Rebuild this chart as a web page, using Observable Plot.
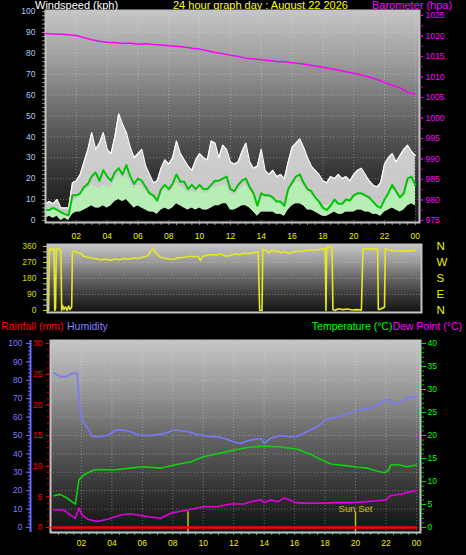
<!DOCTYPE html>
<html><head><meta charset="utf-8">
<script src="https://cdn.jsdelivr.net/npm/d3@7"></script>
<script src="https://cdn.jsdelivr.net/npm/@observablehq/plot@0.6"></script>
<style>
html,body{margin:0;padding:0;background:#000;}
#wrap{position:relative;width:466px;height:555px;background:#000;overflow:hidden;font-family:"Liberation Sans",Arial,sans-serif;}
.t{position:absolute;font-size:11px;line-height:11px;white-space:nowrap;}
</style></head>
<body>
<div id="wrap">
<svg width="0" height="0" style="position:absolute"><defs>
<linearGradient id="bg" x1="0" y1="0" x2="0" y2="1">
<stop offset="0" stop-color="#c6c6c6"/><stop offset="0.25" stop-color="#9a9a9a"/><stop offset="0.5" stop-color="#666"/><stop offset="0.75" stop-color="#383838"/><stop offset="1" stop-color="#121212"/>
</linearGradient></defs></svg>
<div class="t" style="left:35px;top:0px;color:#fff">Windspeed (kph)</div>
<div class="t" style="left:173px;top:0px;color:#ffff00">24 hour graph day : August 22 2026</div>
<div class="t" style="left:372px;top:0px;color:#ff00ff">Barometer (hpa)</div>
<div class="t" style="left:1px;top:321px;color:#ff0000;font-size:10.5px">Rainfall (mm)</div>
<div class="t" style="left:67px;top:321px;color:#8080ff;font-size:10.5px">Humidity</div>
<div class="t" style="right:4px;top:321px;font-size:10.5px"><span style="color:#00ff00">Temperature (°C)</span><span style="color:#ff00ff">Dew Point (°C)</span></div>
</div>
<script>
// ---------- data ----------
const hourTicks = [2,4,6,8,10,12,14,16,18,20,22,24];
const hourLabels = ["02","04","06","08","10","12","14","16","18","20","22","00"];
const windTicks = [0,10,20,30,40,50,60,70,80,90,100];
const baroTicks = [975,980,985,990,995,1000,1005,1010,1015,1020,1025];
const dirTicks = [0,90,180,270,360];
const dirLetters = ["N","E","S","W","N"];
const humTicks = [0,10,20,30,40,50,60,70,80,90,100];
const rainTicks = [0,5,10,15,20,25,30];
const tempTicks = [0,5,10,15,20,25,30,35,40];

// wind, every 15 minutes from 00:00 to 24:00
const windGust = [8,9,8,10, 6,6,6,18, 19,22,28,34, 42,34,37,42, 34,32,40,51, 46,42,35,30, 32,34,26,22, 18,19,25,29, 27,30,38,32, 29,26,24,29, 32,30,29,38, 37,30,36,34, 28,27,28,33, 37,28,25,26, 34,24,22,24, 21,22,20,28, 35,37,39,35, 30,26,24,22, 19,18,21,20, 22,20,21,19, 22,24,25,22, 19,17,16,18, 27,30,32,28, 31,34,36,33, 31];
const windAvg = [5,5,6,5, 4,3,2.5,12, 12,13,16,17.5, 21,23,19,24, 21,19,23,25, 22,26.5,21,17.5, 20,19,16,13, 12,9.5,15,17, 15,17.5,22,18.5, 18.5,15,17,15, 17,15,15,17, 19,19,20,21, 15,14,17,19, 20,16,13,7, 13,12,12,11, 9,9,7,15, 18,21,22,18, 15,14,11,9, 6,5,7,10, 8,8,10,9.5, 12,13,13,12, 11,9,7,6, 10,13,17,14, 11,13,20,21, 17];
const windHi = [4,6,5,6, 4,3,3,9, 10,12,14,15, 17,16,15,17, 16,16,19,22, 20,22,18,15, 17,16,14,12, 11,9,13,15, 13,15,18,16, 15,13,14,13, 15,13,13,15, 16,16,17,17, 13,12,14,16, 17,14,12,10, 12,11,11,10, 9,9,8,13, 16,18,19,16, 14,12,11,9, 7,7,8,10, 9,9,10,10, 11,12,12,11, 10,9,8,7, 10,12,15,13, 11,13,17,18, 16];
const windLo = [1,2,1,2, 0,1,0,3, 4,4,5,6, 7,6,6,7, 6,7,9,10, 9,10,8,6, 7,6,5,4, 4,3,5,6, 5,6,8,7, 6,5,6,5, 6,5,5,6, 7,7,8,8, 5,5,6,7, 7,6,4,2, 4,4,4,4, 3,3,2,5, 7,8,8,7, 5,5,4,3, 2,2,3,4, 3,3,4,4, 4,5,5,4, 4,3,3,2, 4,5,6,5, 4,5,7,8, 7];
const windStep = 0.25;

// barometer, every 30 minutes
const baroValues = [1020.6,1020.5,1020.4,1020.3,1020.1,1019.6,1019.1,1018.7,1018.5,1018.4,1018.2,1018.3,1018.0,1018.1,1017.9,1017.8,1017.6,1017.5,1017.3,1017.0,1016.8,1016.4,1016.0,1015.7,1015.3,1015.0,1014.6,1014.4,1014.2,1014.0,1013.8,1013.7,1013.5,1013.3,1013.0,1012.7,1012.4,1012.0,1011.7,1011.3,1010.9,1010.5,1010.0,1009.4,1008.7,1008.0,1007.4,1006.2,1005.9];
const baroStep = 0.5;

// wind direction
const dirHours = [0.2,0.25,0.4,0.55,0.6,0.65,0.7,0.85,1.0,1.05,1.1,1.2,1.3,1.4,1.5,1.6,1.7,1.75,1.9,2.1,2.3,2.5,2.7,3.0,3.3,3.6,3.9,4.2,4.5,4.8,5.1,5.4,5.7,6.0,6.3,6.6,6.9,7.0,7.2,7.45,7.7,8.0,8.3,8.6,9.0,9.3,9.6,9.9,10.05,10.2,10.5,10.8,11.1,11.4,11.7,12.0,12.3,12.6,12.9,13.2,13.5,13.8,13.9,14.05,14.1,14.3,14.5,14.7,14.9,15.1,15.3,15.5,15.8,16.1,16.4,16.7,17.0,17.3,17.6,17.9,18.15,18.2,18.25,18.6,18.65,18.8,19.0,19.3,19.6,19.9,20.2,20.5,20.6,20.9,21.2,21.55,21.6,21.8,22.0,22.05,22.3,22.6,22.9,23.2,23.5,23.8,24.0];
const dirDeg = [0,350,340,352,0,10,345,352,340,0,30,5,20,0,25,5,20,330,335,325,320,305,300,295,290,285,288,282,290,285,292,288,295,292,300,305,340,347,320,300,295,290,288,295,300,305,302,305,282,305,310,315,312,318,305,310,318,315,322,320,325,330,0,0,345,340,325,340,330,335,325,330,320,330,333,335,338,340,342,345,347,0,355,355,5,0,10,5,8,3,5,2,345,347,345,347,5,10,20,350,340,337,335,333,337,335,338];

// humidity / rain / temperature / dew point
const humHours = [0.2,0.6,1.05,1.3,1.6,1.72,1.83,1.94,2.05,2.27,2.5,2.7,3.0,3.7,4.3,4.8,5.2,5.9,6.5,7.4,8.1,9.0,9.6,10.3,10.9,11.4,12.0,12.45,13.1,13.8,14.0,14.4,15.1,15.7,16.2,16.8,17.5,18.1,18.8,19.5,20.1,20.8,21.4,21.9,22.2,22.5,22.96,23.4,23.8,24.0];
const humValues = [84,82,82,83.5,84,83.5,71,62,58,55.5,53,49.6,49.3,50,53,53,52,50,50,51,53,52,50.7,49.6,49.3,48.4,46.6,45.7,47.5,48.4,45.7,48.4,50,49.3,49.6,52,54.7,58.7,60,61.6,63.7,64.6,66.4,69,70,67,68.2,70.6,71,71];
const rainHours = [0.05,24];
const rainValues = [0,0];
const tempHours = [0.2,0.6,1.05,1.5,1.6,1.83,2.15,2.5,2.8,3.0,4.1,5.2,6.1,7.2,8.1,9.2,10.0,10.9,11.8,12.9,14.0,15.1,16.2,17.0,17.9,18.4,19.5,20.1,20.8,21.4,21.9,22.2,22.3,22.75,23.4,24.0];
const tempValues = [6.9,7.2,6.4,5.3,5.1,10.3,11.4,12,12.5,12.6,12.5,12.9,13.2,12.9,13.6,14.3,15.4,16,16.7,17.4,17.7,17.5,17,16,14.5,13.8,13.4,13.1,12.9,12.3,11.9,12.5,13.6,13.7,13.2,13.6];
const dewHours = [0.2,0.85,1.28,1.6,1.83,2.05,2.4,3.03,3.7,4.57,5.2,6.3,7.2,7.85,8.95,10.0,10.9,11.8,12.7,13.1,13.8,14.0,14.4,14.9,15.3,15.7,16.0,16.8,17.9,18.8,19.7,20.6,21.4,22.0,22.3,23.0,23.6,24.0];
const dewValues = [3.8,3.8,2.7,2.0,4.2,2.7,1.8,1.3,1.8,2.7,3.0,2.4,2.0,3.1,3.8,4.5,4.5,5.1,5.1,5.6,6.0,5.4,6.0,5.6,6.4,6.0,5.4,5.3,5.3,5.4,5.4,5.6,5.8,6.0,6.9,7.3,7.8,8.0];
const sunHours = [9, 20];
const sunLabels = ["", "Sun Set"];

// ---------- tables ----------
const wind = windGust.map((g, i) => ({h: i * windStep, gust: g, avg: windAvg[i], hi: windHi[i], lo: windLo[i]}));
const baro = baroValues.map((p, i) => ({h: i * baroStep, p}));
const dir = dirHours.map((h, i) => ({h, d: dirDeg[i]}));
const hum = humHours.map((h, i) => ({h, v: humValues[i]}));
const rain = rainHours.map((h, i) => ({h, v: rainValues[i]}));
const temp = tempHours.map((h, i) => ({h, v: tempValues[i]}));
const dew = dewHours.map((h, i) => ({h, v: dewValues[i]}));
const sun = sunHours.map((h, i) => ({h, label: sunLabels[i]}));
const fmtHour = d => hourLabels[hourTicks.indexOf(d)];
const fmtPlain = d => String(d);
const halfHours = d3.range(0.5, 24.01, 0.5);

// ---------- layout ----------
const wrap = document.getElementById("wrap");
const FONT = "'Liberation Sans', Arial, sans-serif";
function layer(o) {
  const svg = Plot.plot({width: 466, height: 555, ...o,
    style: {position: "absolute", left: "0px", top: "0px", background: "transparent", overflow: "visible", fontFamily: FONT, fontSize: "8.5px"}});
  wrap.appendChild(svg);
}
const gridStyle = {stroke: "#e8e8e8", strokeOpacity: 0.35, strokeDasharray: "1,2"};
const topM = {marginLeft: 45, marginRight: 47, marginTop: 10, marginBottom: 333};
const topX = [0, 24.27];

// top: windspeed
layer({...topM, x: {domain: topX}, y: {domain: [-1, 100.5]},
  marks: [
    Plot.frame({fill: "url(#bg)"}),
    Plot.gridY(windTicks.slice(1, -1), gridStyle),
    Plot.gridX(hourTicks, gridStyle),
    Plot.areaY(wind, {x: "h", y1: "lo", y2: "gust", fill: "#ececec", fillOpacity: 0.82}),
    Plot.line(wind, {x: "h", y: "gust", stroke: "#ffffff", strokeWidth: 1.2}),
    Plot.areaY(wind, {x: "h", y1: 0, y2: "lo", fill: "#000"}),
    Plot.areaY(wind, {x: "h", y1: "lo", y2: "hi", fill: "#b6eeb6"}),
    Plot.line(wind, {x: "h", y: "avg", stroke: "#00c400", strokeWidth: 2}),
    Plot.axisY(d3.range(0, 100.1, 2), {anchor: "left", tickSize: 3, stroke: "#909090", fill: "none", label: null}),
    Plot.axisY(windTicks, {anchor: "left", tickSize: 0, tickPadding: 10, fill: "#a8c8f8", tickFormat: fmtPlain, label: null}),
    Plot.axisX(halfHours, {anchor: "bottom", tickSize: 3, stroke: "#909090", fill: "none", label: null}),
    Plot.axisX(hourTicks, {anchor: "bottom", tickSize: 0, tickPadding: 10, fill: "#f0f000", tickFormat: fmtHour, label: null}),
    Plot.frame({stroke: "#c4c4c4", strokeWidth: 2})
  ]});

// top: barometer overlay
layer({...topM, x: {domain: topX, axis: null}, y: {domain: [974.51, 1026.22]},
  marks: [
    Plot.line(baro, {x: "h", y: "p", stroke: "#ff00ff", strokeWidth: 1.5}),
    Plot.axisY(d3.range(975, 1025.1, 2.5), {anchor: "right", tickSize: 3, stroke: "#c000c0", fill: "none", label: null}),
    Plot.axisY(baroTicks, {anchor: "right", tickSize: 3, tickPadding: 3, stroke: "#ff00ff", fill: "#ff00ff", tickFormat: fmtPlain, label: null})
  ]});

// middle: wind direction
layer({marginLeft: 47, marginRight: 45, marginTop: 244, marginBottom: 243,
  x: {domain: [0.13, 24.4], axis: null}, y: {domain: [-11.25, 371.25]},
  marks: [
    Plot.frame({fill: "url(#bg)"}),
    Plot.gridY([90, 180, 270], gridStyle),
    Plot.line(dir, {x: "h", y: "d", stroke: "#e8e820", strokeWidth: 1.6}),
    Plot.axisY(d3.range(0, 360.1, 30), {anchor: "left", tickSize: 4, stroke: "#d0d000", fill: "none", label: null}),
    Plot.axisY(dirTicks, {anchor: "left", tickSize: 0, tickPadding: 11, fill: "#d8d800", tickFormat: fmtPlain, label: null}),
    Plot.axisY(dirTicks, {anchor: "right", tickSize: 0, tickPadding: 15, fill: "#f0f000", fontSize: 11.5, textAnchor: "start", tickFormat: d => dirLetters[dirTicks.indexOf(d)], label: null}),
    Plot.frame({stroke: "#c4c4c4", strokeWidth: 2})
  ]});

// bottom: humidity
const botM = {marginLeft: 50, marginRight: 46, marginTop: 340, marginBottom: 23};
const botX = [-0.033, 24.27];
const humDom = [-2.72, 101.63];
layer({...botM, x: {domain: botX}, y: {domain: humDom},
  marks: [
    Plot.frame({fill: "url(#bg)"}),
    Plot.gridY(humTicks.slice(1, -1), gridStyle),
    Plot.gridX(hourTicks, gridStyle),
    Plot.ruleX(sun, {x: "h", y1: humDom[0], y2: 8.5, stroke: "#c8c000", strokeWidth: 1.5}),
    Plot.text(sun.filter(d => d.label), {x: "h", y: 10, text: "label", fill: "#d0c400", fontSize: 9.5}),
    Plot.line(hum, {x: "h", y: "v", stroke: "#7878ff", strokeWidth: 1.6}),
    Plot.ruleX([botX[0]], {y1: humDom[0], y2: humDom[1], dx: -20, stroke: "#6a6aff", strokeWidth: 2}),
    Plot.axisY(d3.range(0, 100.1, 2), {anchor: "left", dx: -20, tickSize: 2, stroke: "#6a6aff", fill: "none", label: null}),
    Plot.axisY(humTicks, {anchor: "left", dx: -20, tickSize: 4, tickPadding: 4, stroke: "#6a6aff", fill: "#7b7bff", tickFormat: fmtPlain, label: null}),
    Plot.axisX(halfHours, {anchor: "bottom", tickSize: 3, stroke: "#909090", fill: "none", label: null}),
    Plot.axisX(hourTicks, {anchor: "bottom", tickSize: 0, tickPadding: 7, fill: "#f0f000", tickFormat: fmtHour, label: null}),
    Plot.frame({stroke: "#c4c4c4", strokeWidth: 2})
  ]});

// bottom: rainfall overlay
layer({...botM, x: {domain: botX, axis: null}, y: {domain: [-0.815, 30.489]},
  marks: [
    Plot.line(rain, {x: "h", y: "v", stroke: "#ff0000", strokeWidth: 2.5}),
    Plot.axisY(d3.range(0, 30.1, 1), {anchor: "left", tickSize: 3, stroke: "#d00000", fill: "none", label: null}),
    Plot.axisY(rainTicks, {anchor: "left", tickSize: 4, tickPadding: 4, stroke: "#ff0000", fill: "#ff0000", tickFormat: fmtPlain, label: null})
  ]});

// bottom: temperature / dew point overlay
layer({...botM, x: {domain: botX, axis: null}, y: {domain: [-1.087, 40.652]},
  marks: [
    Plot.line(temp, {x: "h", y: "v", stroke: "#10d010", strokeWidth: 1.6}),
    Plot.line(dew, {x: "h", y: "v", stroke: "#e000e0", strokeWidth: 1.6}),
    Plot.axisY(d3.range(0, 40.1, 1), {anchor: "right", tickSize: 3, stroke: "#00c000", fill: "none", label: null}),
    Plot.axisY(tempTicks, {anchor: "right", tickSize: 5, tickPadding: 2, stroke: "#00e000", fill: "#00ff00", tickFormat: fmtPlain, label: null})
  ]});
</script>
</body></html>
